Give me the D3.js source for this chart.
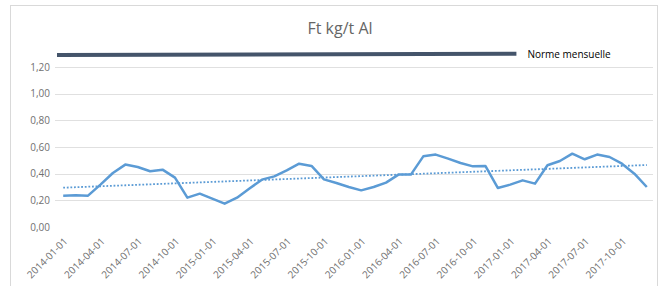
<!DOCTYPE html>
<html>
<head>
<meta charset="utf-8">
<script src="https://cdn.jsdelivr.net/npm/d3@7"></script>
<style>
  body { margin: 0; background: #fff; }
  svg { display: block; font-family: "Open Sans", "DejaVu Sans", sans-serif; }
</style>
</head>
<body>
<svg id="chart"></svg>
<script>
const WIDTH = 660
const HEIGHT = 286
const MARGIN = {top: 67, right: 7, bottom: 59, left: 57}

const TITLE = "Ft kg/t Al"
const NORM_LABEL = "Norme mensuelle"

// months, 2014-01 .. 2017-12
const months = [
  "2014-01-01", "2014-02-01", "2014-03-01", "2014-04-01", "2014-05-01", "2014-06-01",
  "2014-07-01", "2014-08-01", "2014-09-01", "2014-10-01", "2014-11-01", "2014-12-01",
  "2015-01-01", "2015-02-01", "2015-03-01", "2015-04-01", "2015-05-01", "2015-06-01",
  "2015-07-01", "2015-08-01", "2015-09-01", "2015-10-01", "2015-11-01", "2015-12-01",
  "2016-01-01", "2016-02-01", "2016-03-01", "2016-04-01", "2016-05-01", "2016-06-01",
  "2016-07-01", "2016-08-01", "2016-09-01", "2016-10-01", "2016-11-01", "2016-12-01",
  "2017-01-01", "2017-02-01", "2017-03-01", "2017-04-01", "2017-05-01", "2017-06-01",
  "2017-07-01", "2017-08-01", "2017-09-01", "2017-10-01", "2017-11-01", "2017-12-01"
]

// Ft values
const ftValues = [
  0.235, 0.238, 0.235, 0.318, 0.405, 0.468, 0.45, 0.418, 0.43, 0.37, 0.22, 0.25,
  0.213, 0.175, 0.22, 0.288, 0.355, 0.38, 0.425, 0.475, 0.458, 0.357, 0.33, 0.30,
  0.275, 0.30, 0.333, 0.393, 0.393, 0.53, 0.543, 0.513, 0.48, 0.455, 0.458, 0.293,
  0.318, 0.35, 0.325, 0.463, 0.495, 0.55, 0.508, 0.543, 0.525, 0.475, 0.40, 0.30
]

// monthly norm: from first month to 2017-01
const normMonths = ["2014-01-01", "2017-01-01"]
const normValues = [1.29, 1.30]

const yTicks = [0, 0.2, 0.4, 0.6, 0.8, 1.0, 1.2]
const xLabelMonths = months.filter((d, i) => i % 3 === 0)

const svg = d3.select("#chart").attr("width", WIDTH).attr("height", HEIGHT)

// chart border
svg.append("rect")
  .attr("x", 10.5).attr("y", 5.5)
  .attr("width", WIDTH - 13).attr("height", HEIGHT + 10)
  .attr("fill", "none").attr("stroke", "#d9d9d9")

const x = d3.scaleBand()
  .domain(months)
  .range([MARGIN.left, WIDTH - MARGIN.right])

const y = d3.scaleLinear()
  .domain([0, 1.2])
  .range([HEIGHT - MARGIN.bottom, MARGIN.top])

const cx = (d) => x(d) + x.bandwidth() / 2

// gridlines
svg.append("g")
  .selectAll("line")
  .data(yTicks.filter((d) => d > 0))
  .enter()
  .append("line")
  .attr("x1", MARGIN.left - 2)
  .attr("x2", WIDTH - MARGIN.right)
  .attr("y1", (d) => Math.round(y(d)) + 0.5)
  .attr("y2", (d) => Math.round(y(d)) + 0.5)
  .attr("stroke", "#e0e0e0")
  .attr("stroke-width", 1)

// y tick labels
const fmt = d3.format(".2f")
svg.append("g")
  .selectAll("text")
  .data(yTicks)
  .enter()
  .append("text")
  .attr("x", 50)
  .attr("y", (d) => y(d) + 3.5)
  .attr("text-anchor", "end")
  .attr("font-size", 10)
  .attr("fill", "#707070")
  .text((d) => fmt(d).replace(".", ","))

// x tick labels, rotated
svg.append("g")
  .selectAll("text")
  .data(xLabelMonths)
  .enter()
  .append("text")
  .attr("transform", (d) => `translate(${cx(d) + 5},${242}) rotate(-45)`)
  .attr("text-anchor", "end")
  .attr("font-size", 10)
  .attr("fill", "#707070")
  .text((d) => d)

// title
svg.append("text")
  .attr("x", 340)
  .attr("y", 34)
  .attr("text-anchor", "middle")
  .attr("font-size", 16)
  .attr("fill", "#666")
  .text(TITLE)

// linear trend (least squares, like Excel)
const idx = ftValues.map((d, i) => i)
const mx = d3.mean(idx)
const my = d3.mean(ftValues)
const slope = d3.sum(idx, (i) => (i - mx) * (ftValues[i] - my)) /
  d3.sum(idx, (i) => (i - mx) * (i - mx))
const intercept = my - slope * mx
const trend = [0, months.length - 1].map((i) => ({m: months[i], v: intercept + slope * i}))

svg.append("path")
  .datum(trend)
  .attr("d", d3.line().x((d) => cx(d.m)).y((d) => y(d.v)))
  .attr("fill", "none")
  .attr("stroke", "#5b9bd5")
  .attr("stroke-width", 1.8)
  .attr("stroke-dasharray", "1.8,1.8")

// main series
svg.append("path")
  .datum(months.map((m, i) => ({m, v: ftValues[i]})))
  .attr("d", d3.line().x((d) => cx(d.m)).y((d) => y(d.v)))
  .attr("fill", "none")
  .attr("stroke", "#5b9bd5")
  .attr("stroke-width", 2.5)
  .attr("stroke-linejoin", "round")

// monthly norm line
const normPts = [
  {xp: x(normMonths[0]), v: normValues[0]},
  {xp: x(normMonths[1]) + x.bandwidth(), v: normValues[1]}
]
svg.append("path")
  .datum(normPts)
  .attr("d", d3.line().x((d) => d.xp).y((d) => y(d.v)))
  .attr("fill", "none")
  .attr("stroke", "#44546a")
  .attr("stroke-width", 4)

svg.append("text")
  .attr("x", normPts[1].xp + 11)
  .attr("y", y(normValues[1]) + 4)
  .attr("font-size", 10)
  .attr("fill", "#000")
  .text(NORM_LABEL)
</script>
</body>
</html>
